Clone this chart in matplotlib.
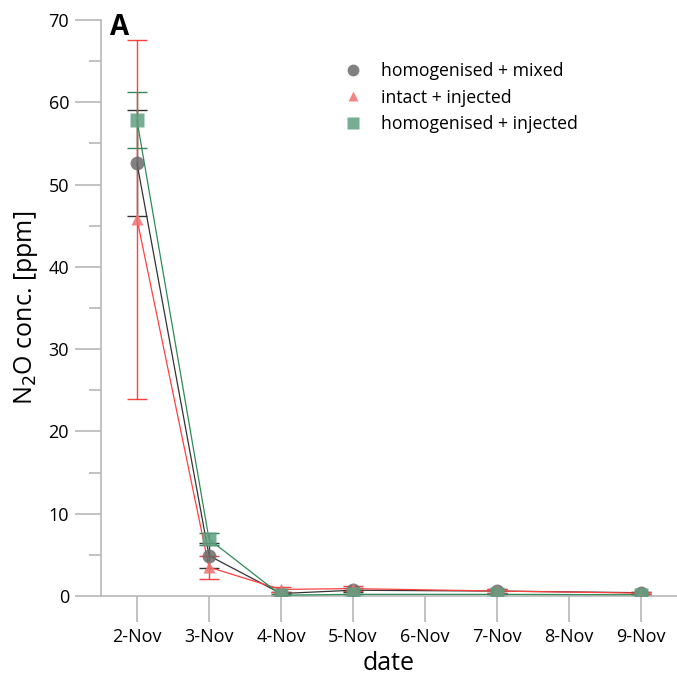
import matplotlib.pyplot as plt
import numpy as np

plt.rcParams['font.family'] = ['Open Sans', 'DejaVu Sans']

dates = ['2-Nov', '3-Nov', '4-Nov', '5-Nov', '6-Nov', '7-Nov', '8-Nov', '9-Nov']
# indices of sampled days (no samples on 6-Nov and 8-Nov)
days = [0, 1, 2, 3, 5, 7]

hm_mean = [52.6, 4.9, 0.3, 0.7, 0.6, 0.4]
hm_err = [6.45, 1.55, 0.2, 0.25, 0.2, 0.1]
ii_mean = [45.8, 3.5, 0.8, 0.9, 0.6, 0.35]
ii_err = [21.8, 1.4, 0.35, 0.3, 0.25, 0.15]
hi_mean = [57.8, 6.9, 0.1, 0.2, 0.2, 0.15]
hi_err = [3.4, 0.7, 0.1, 0.1, 0.1, 0.05]

fig = plt.figure(figsize=(6.77, 6.85), dpi=100)
ax = fig.add_axes([101/677, 89/685, 576/677, 576/685])

series = [
    (hm_mean, hm_err, 'o', '#6b6b6b', '#333333', 2.0, 'homogenised + mixed'),
    (ii_mean, ii_err, '^', '#f07070', '#ff4040', 2.6, 'intact + injected'),
    (hi_mean, hi_err, 's', '#5f9f80', '#2e8b57', 2.3, 'homogenised + injected'),
]
for mean, err, mk, fc, lc, z, lab in series:
    ax.errorbar(days, mean, yerr=err, fmt='none', ecolor=lc, elinewidth=1.0,
                capsize=7, capthick=1.0, zorder=z)
    ax.plot(days, mean, color=lc, lw=0.9, zorder=3)
    ax.plot(days, mean, linestyle='none', marker=mk, ms=10 if mk != '^' else 9,
            mfc=fc, mec='none', alpha=0.85, zorder=4, label=lab)

ax.set_xlim(-0.5, 7.5)
ax.set_ylim(0, 70)
ax.set_xticks(range(len(dates)))
ax.set_xticklabels(dates)
ax.set_yticks(np.arange(0, 71, 10))
ax.set_yticks(np.arange(5, 70, 10), minor=True)

for s in ['top', 'right']:
    ax.spines[s].set_visible(False)
for s in ['left', 'bottom']:
    ax.spines[s].set_color('#b8b8b8')
    ax.spines[s].set_linewidth(1.2)
ax.tick_params(axis='both', which='major', length=19, width=1.2, color='#b8b8b8',
               labelsize=13, pad=4)
ax.tick_params(axis='y', which='minor', length=9, width=1.2, color='#b8b8b8')

ax.set_xlabel('date', fontsize=18, labelpad=4)
ax.set_ylabel('N$_2$O conc. [ppm]', fontsize=18, labelpad=6)

ax.text(0.015, 1.012, 'A', transform=ax.transAxes, fontsize=20, fontweight='bold',
        va='top', ha='left')

ax.legend(loc='upper left', bbox_to_anchor=(0.38, 0.955), frameon=False,
          fontsize=12.7, handletextpad=0.55, labelspacing=0.5, markerscale=0.85)

fig.savefig('out.png', dpi=100)
